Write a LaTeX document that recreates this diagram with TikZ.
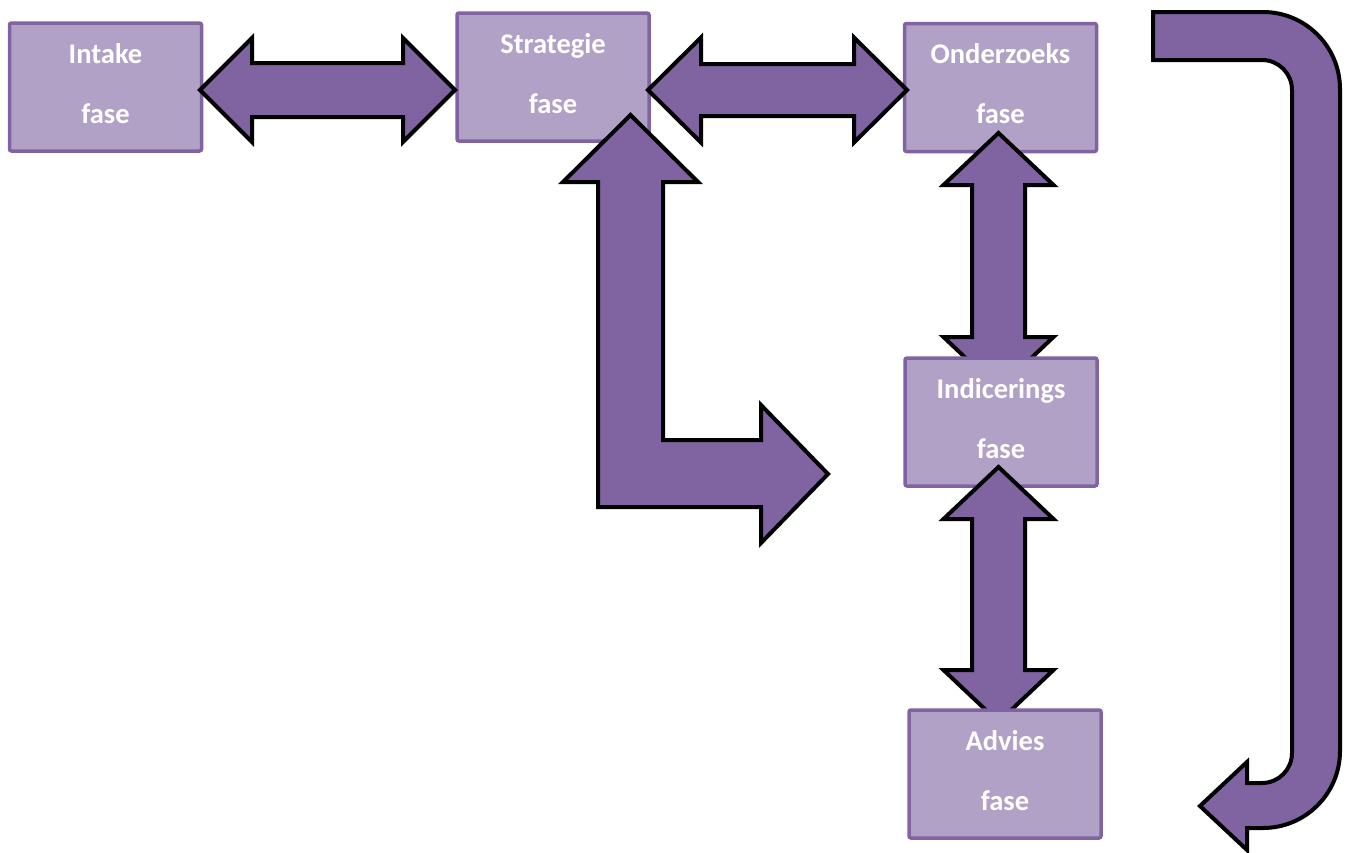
\documentclass[tikz,border=0pt]{standalone}
\usepackage{fontspec}
\setmainfont{Carlito}
\usetikzlibrary{calc}
\definecolor{boxfill}{HTML}{B2A1C7}
\definecolor{boxborder}{HTML}{8064A2}
\definecolor{arrowfill}{HTML}{8064A2}
\newcommand\hdarrow[5]{\draw[blockarrow] let \p1=(#1), \p2=(#2) in
  (\x1,\y1) -- (\x1+#5pt,\y1+#4pt) -- (\x1+#5pt,\y1+#3pt) -- (\x2-#5pt,\y1+#3pt) -- (\x2-#5pt,\y1+#4pt)
  -- (\x2,\y1) -- (\x2-#5pt,\y1-#4pt) -- (\x2-#5pt,\y1-#3pt) -- (\x1+#5pt,\y1-#3pt) -- (\x1+#5pt,\y1-#4pt) -- cycle;}
\newcommand\vdarrow[5]{\draw[blockarrow] let \p1=(#1), \p2=(#2) in
  (\x1,\y1) -- (\x1+#4pt,\y1-#5pt) -- (\x1+#3pt,\y1-#5pt) -- (\x1+#3pt,\y2+#5pt) -- (\x1+#4pt,\y2+#5pt)
  -- (\x1,\y2) -- (\x1-#4pt,\y2+#5pt) -- (\x1-#3pt,\y2+#5pt) -- (\x1-#3pt,\y1-#5pt) -- (\x1-#4pt,\y1-#5pt) -- cycle;}
\begin{document}
\begin{tikzpicture}[x=1pt,y=-1pt,
  phase/.style={draw=boxborder, fill=boxfill, line width=3.5pt, rounded corners=2pt,
    minimum width=192pt, minimum height=128pt, inner sep=0pt, outer sep=0pt,
    align=center, text=white, font=\bfseries\fontsize{28.5}{60}\selectfont},
  blockarrow/.style={draw=black, fill=arrowfill, line width=4pt, line join=miter}]
\useasboundingbox (0,0) rectangle (1347,852);

% top row boxes
\node[phase] (intake) at (105.5,87) {Intake\\fase\rule[-8pt]{0pt}{8pt}};
\node[phase] (strategie) at (553,77) {Strategie\\fase\rule[-8pt]{0pt}{8pt}};
\node[phase] (onderzoek) at (1000.5,87.5) {Onderzoeks\\fase\rule[-8pt]{0pt}{8pt}};

% arrow end points
\coordinate (a1s) at (200,90);
\coordinate (a1e) at (455,90);
\coordinate (a2s) at (648,90);
\coordinate (a2e) at (907,90);
\coordinate (v1s) at (998.5,133);
\coordinate (v1e) at (998.5,389);
\coordinate (v2s) at (998.5,467);
\coordinate (v2e) at (998.5,722);

% horizontal double arrows
\hdarrow{a1s}{a1e}{27}{52}{52}
\hdarrow{a2s}{a2e}{26}{52.5}{53}

% bent arrow from strategie
\draw[blockarrow] (630.5,115) -- (698,182) -- (663,182) -- (663,440) -- (761,440) -- (761,405)
  -- (828,474) -- (761,543) -- (761,507) -- (598,507) -- (598,182) -- (563,182) -- cycle;

% vertical double arrow onderzoek - indicering
\vdarrow{v1s}{v1e}{26.5}{55}{52}
\node[phase] (indicering) at (1001,422) {Indicerings\\fase\rule[-8pt]{0pt}{8pt}};
\vdarrow{v2s}{v2e}{26.5}{55}{52}
\node[phase] (advies) at (1005,774) {Advies\\fase\rule[-8pt]{0pt}{8pt}};

% U-turn arrow
\draw[blockarrow] (1153,12) -- (1263,12)
  .. controls (1305.5,12) and (1340,46.5) .. (1340,89)
  -- (1340,751)
  .. controls (1340,793.5) and (1305.5,828) .. (1263,828)
  -- (1247,828) -- (1247,850) -- (1200,806) -- (1247,762) -- (1247,783) -- (1262,783)
  .. controls (1278.6,783) and (1292,769.6) .. (1292,753)
  -- (1292,90)
  .. controls (1292,73.4) and (1278.6,60) .. (1262,60)
  -- (1153,60) -- cycle;
\end{tikzpicture}
\end{document}
